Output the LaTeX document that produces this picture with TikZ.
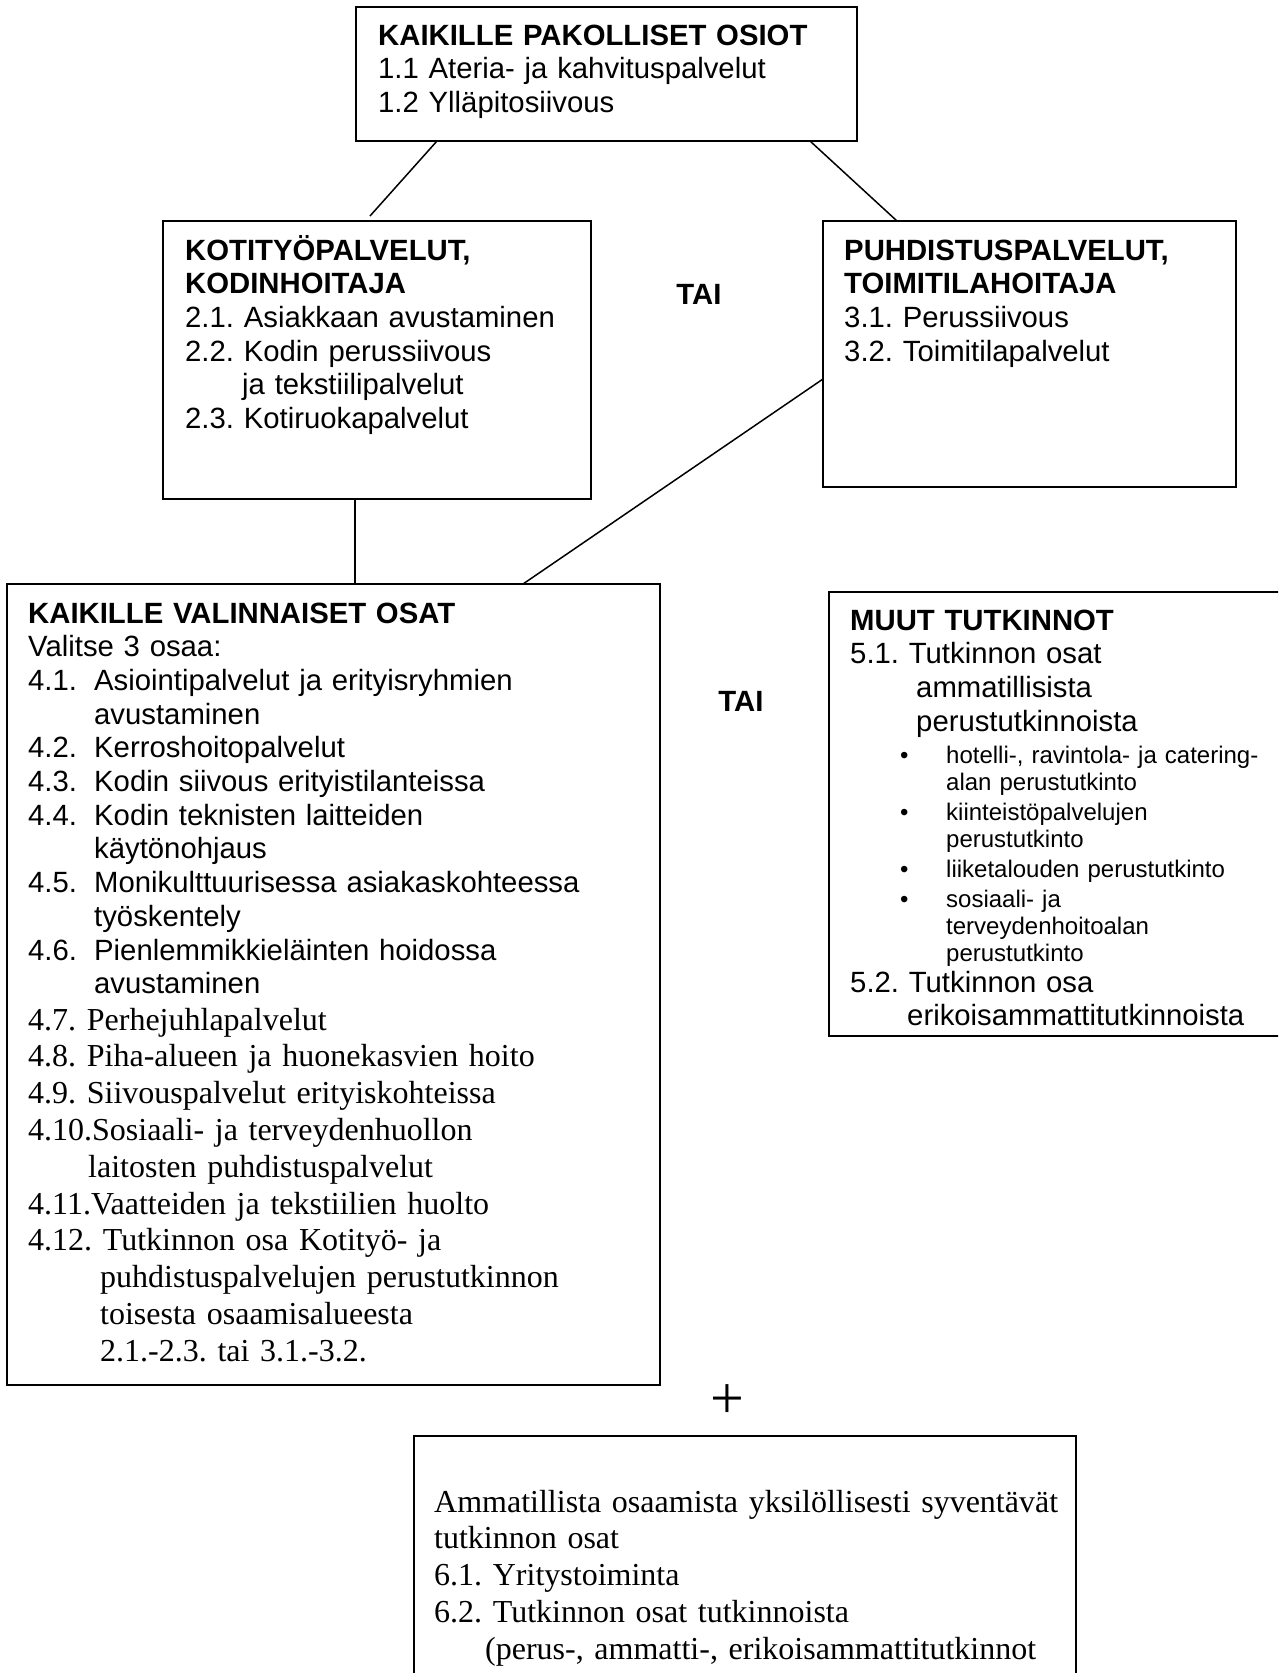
\documentclass[tikz,border=0pt]{standalone}
\usepackage{fontspec}
\setmainfont{Liberation Sans}
\newfontfamily\timesfont{Liberation Serif}
\newcommand{\sanstxt}{\fontsize{29.3}{33.7}\selectfont}
\newcommand{\smalltxt}{\fontsize{24}{27}\selectfont}
\newcommand{\serieftxt}{\timesfont\fontsize{32}{36.8}\selectfont}
\newcommand{\ind}[1]{\hspace*{#1pt}}
\newcommand{\num}[1]{\makebox[66pt][l]{#1}}
\newcommand{\bul}{\makebox[46pt][l]{\textbullet}}
\frenchspacing

\begin{document}
\begin{tikzpicture}[x=1pt,y=-1pt,
    box/.style={draw,line width=2pt,anchor=north west,inner sep=0pt,outer sep=0pt},
    lines/.style={anchor=base west,inner sep=0pt,align=left,text width=640pt,font=\sanstxt},
    serif/.style={lines,font=\serieftxt},
    small/.style={lines,font=\smalltxt},
    tai/.style={anchor=base,inner sep=0pt,font=\sanstxt\bfseries},
    link/.style={line width=1.5pt}]
  \useasboundingbox (0,0) rectangle (1278,1673);
  \clip (0,0) rectangle (1278,1673);

  % boxes
  \node[box,minimum width=501pt,minimum height=134pt] (pak) at (356,7) {};
  \node[box,minimum width=428pt,minimum height=278pt] (kot) at (163,221) {};
  \node[box,minimum width=413pt,minimum height=266pt] (puh) at (823,221) {};
  \node[box,minimum width=653pt,minimum height=801pt] (val) at (7,584) {};
  \node[box,minimum width=480pt,minimum height=444pt] (muu) at (829,592) {};
  \node[box,minimum width=662pt,minimum height=290pt] (amm) at (414,1436) {};

  % texts
  \node[lines] (pakt) at (378,45) {{\bfseries KAIKILLE PAKOLLISET OSIOT}\\
    1.1 Ateria- ja kahvituspalvelut\\
    1.2 Ylläpitosiivous};
  \node[lines] (kott) at (185,260) {{\bfseries KOTITYÖPALVELUT,}\\
    {\bfseries KODINHOITAJA}\\
    2.1. Asiakkaan avustaminen\\
    2.2. Kodin perussiivous\\
    \ind{57}ja tekstiilipalvelut\\
    2.3. Kotiruokapalvelut};
  \node[lines] (puht) at (844,260) {{\bfseries PUHDISTUSPALVELUT,}\\
    {\bfseries TOIMITILAHOITAJA}\\
    3.1. Perussiivous\\
    3.2. Toimitilapalvelut};
  \node[lines] (valt) at (28,623) {{\bfseries KAIKILLE VALINNAISET OSAT}\\
    Valitse 3 osaa:\\
    \num{4.1.}Asiointipalvelut ja erityisryhmien\\
    \ind{66}avustaminen\\
    \num{4.2.}Kerroshoitopalvelut\\
    \num{4.3.}Kodin siivous erityistilanteissa\\
    \num{4.4.}Kodin teknisten laitteiden\\
    \ind{66}käytönohjaus\\
    \num{4.5.}Monikulttuurisessa asiakaskohteessa\\
    \ind{66}työskentely\\
    \num{4.6.}Pienlemmikkieläinten hoidossa\\
    \ind{66}avustaminen};
  \node[serif] (valt2) at (28,1030) {4.7. Perhejuhlapalvelut\\
    4.8. Piha-alueen ja huonekasvien hoito\\
    4.9. Siivouspalvelut erityiskohteissa\\
    4.10.Sosiaali- ja terveydenhuollon\\
    \ind{60}laitosten puhdistuspalvelut\\
    4.11.Vaatteiden ja tekstiilien huolto\\
    4.12. Tutkinnon osa Kotityö- ja\\
    \ind{72}puhdistuspalvelujen perustutkinnon\\
    \ind{72}toisesta osaamisalueesta\\
    \ind{72}2.1.-2.3. tai 3.1.-3.2.};
  \node[lines] (muut) at (850,630) {{\bfseries MUUT TUTKINNOT}\\
    5.1. Tutkinnon osat\\
    \ind{66}ammatillisista\\
    \ind{66}perustutkinnoista};
  \node[small] (muub) at (900,763) {\bul hotelli-, ravintola- ja catering-\\
    \ind{46}alan perustutkinto\\[3pt]
    \bul kiinteistöpalvelujen\\
    \ind{46}perustutkinto\\[3pt]
    \bul liiketalouden perustutkinto\\[3pt]
    \bul sosiaali- ja\\
    \ind{46}terveydenhoitoalan\\
    \ind{46}perustutkinto};
  \node[lines] (muut2) at (850,992) {5.2. Tutkinnon osa\\
    \ind{57}erikoisammattitutkinnoista};
  \node[serif] (ammt) at (434,1512) {Ammatillista osaamista yksilöllisesti syventävät\\
    tutkinnon osat\\
    6.1. Yritystoiminta\\
    6.2. Tutkinnon osat tutkinnoista\\
    \ind{51}(perus-, ammatti-, erikoisammattitutkinnot};

  \node[tai] (tai1) at (699,304.5) {TAI};
  \node[tai] (tai2) at (741,711) {TAI};
  \node[inner sep=0pt,font=\timesfont\fontsize{60}{60}\selectfont] (plus) at (727,1402) {+};

  % connectors
  \draw[link] ([xshift=81pt]pak.south west) -- ([xshift=207pt,yshift=5pt]kot.north west);
  \draw[link] ([xshift=454pt]pak.south west) -- ([xshift=74pt]puh.north west);
  \draw[link] ([xshift=192pt]kot.south west) -- ([xshift=348pt]val.north west);
  \draw[link] ([yshift=-158pt]puh.north west) -- ([xshift=516pt]val.north west);
\end{tikzpicture}
\end{document}
